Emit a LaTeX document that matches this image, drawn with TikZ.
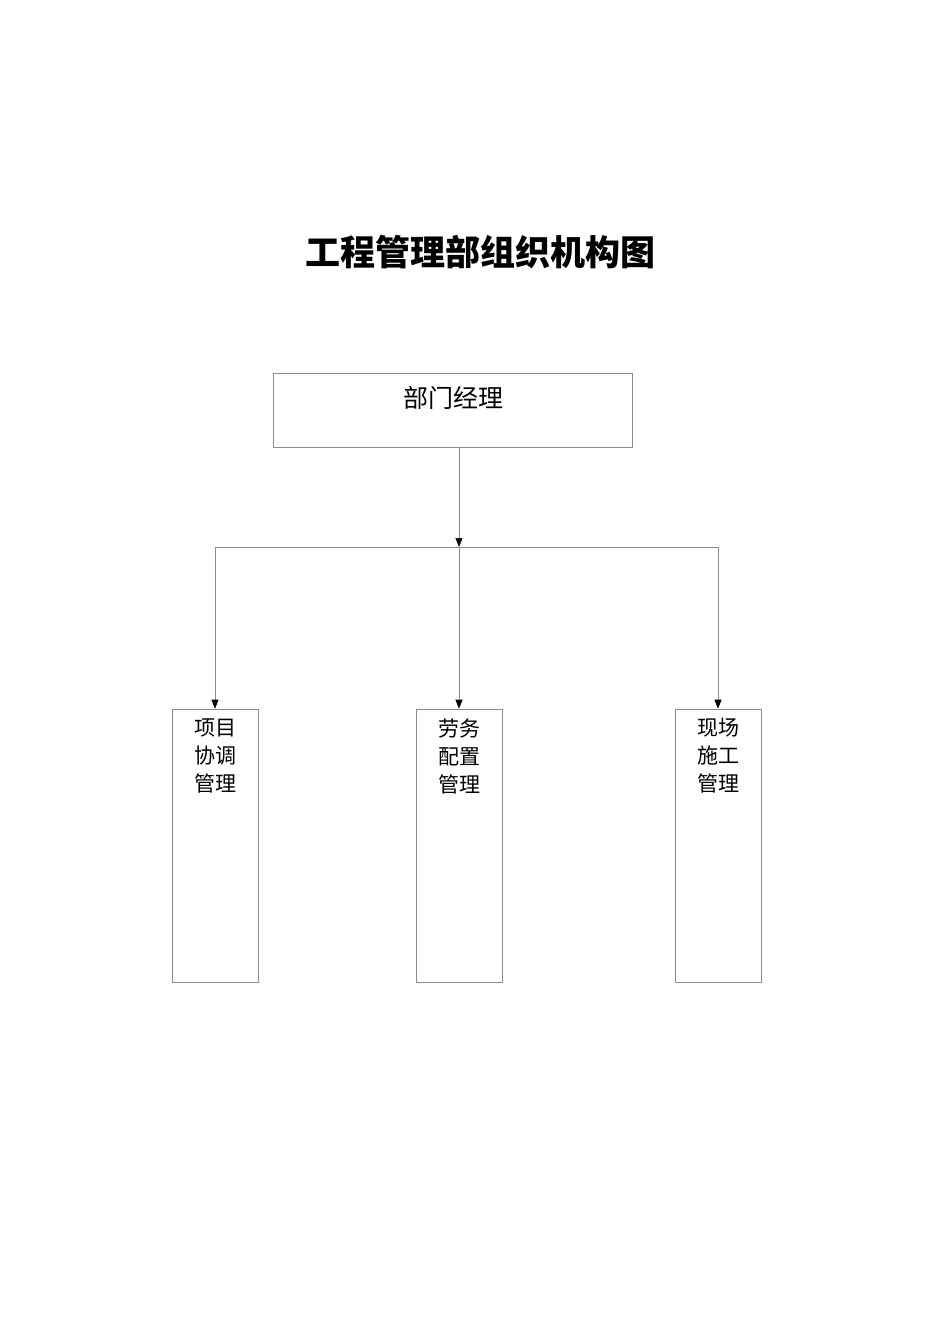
\documentclass[tikz,border=0pt]{standalone}
\usepackage{fontspec}
\newfontfamily\cjk{Noto Sans CJK SC}
\usetikzlibrary{arrows.meta}
\begin{document}
\begin{tikzpicture}[x=1pt,y=-1pt,
  box/.style={draw=black!45,line width=0.6pt,inner sep=0pt},
  con/.style={draw=black!45,line width=0.6pt},
  arr/.style={con,-{Triangle[length=9pt,width=7pt,fill=black,color=black]}},
  lab/.style={font=\cjk\fontsize{21}{28}\selectfont,align=center,anchor=north}]
\useasboundingbox (0,0) rectangle (950,1344);
\node[font=\cjk\bfseries\fontsize{35}{40}\selectfont] (title) at (480,252) {工程管理部组织机构图};
\node[box,minimum width=359pt,minimum height=74pt] (top) at (452.5,410) {};
\node[font=\cjk\fontsize{25}{30}\selectfont] (toplab) at (453,398) {部门经理};
\coordinate (j) at (459,547);
\coordinate (jl) at (215,547);
\coordinate (jr) at (718,547);
\node[box,minimum width=86pt,minimum height=273pt] (b1) at (215,845.5) {};
\node[box,minimum width=86pt,minimum height=273pt] (b2) at (459,845.5) {};
\node[box,minimum width=86pt,minimum height=273pt] (b3) at (718,845.5) {};
\node[lab] (t1) at (215,715) {项目\\协调\\管理};
\node[lab] (t2) at (459,715) {劳务\\配置\\管理};
\node[lab] (t3) at (718,715) {现场\\施工\\管理};
\draw[arr] (top.south -| j) -- (j);
\draw[con] (jl) -- (jr);
\draw[arr] (jl) -- (b1.north);
\draw[arr] (j) -- (b2.north);
\draw[arr] (jr) -- (b3.north);
\end{tikzpicture}
\end{document}
